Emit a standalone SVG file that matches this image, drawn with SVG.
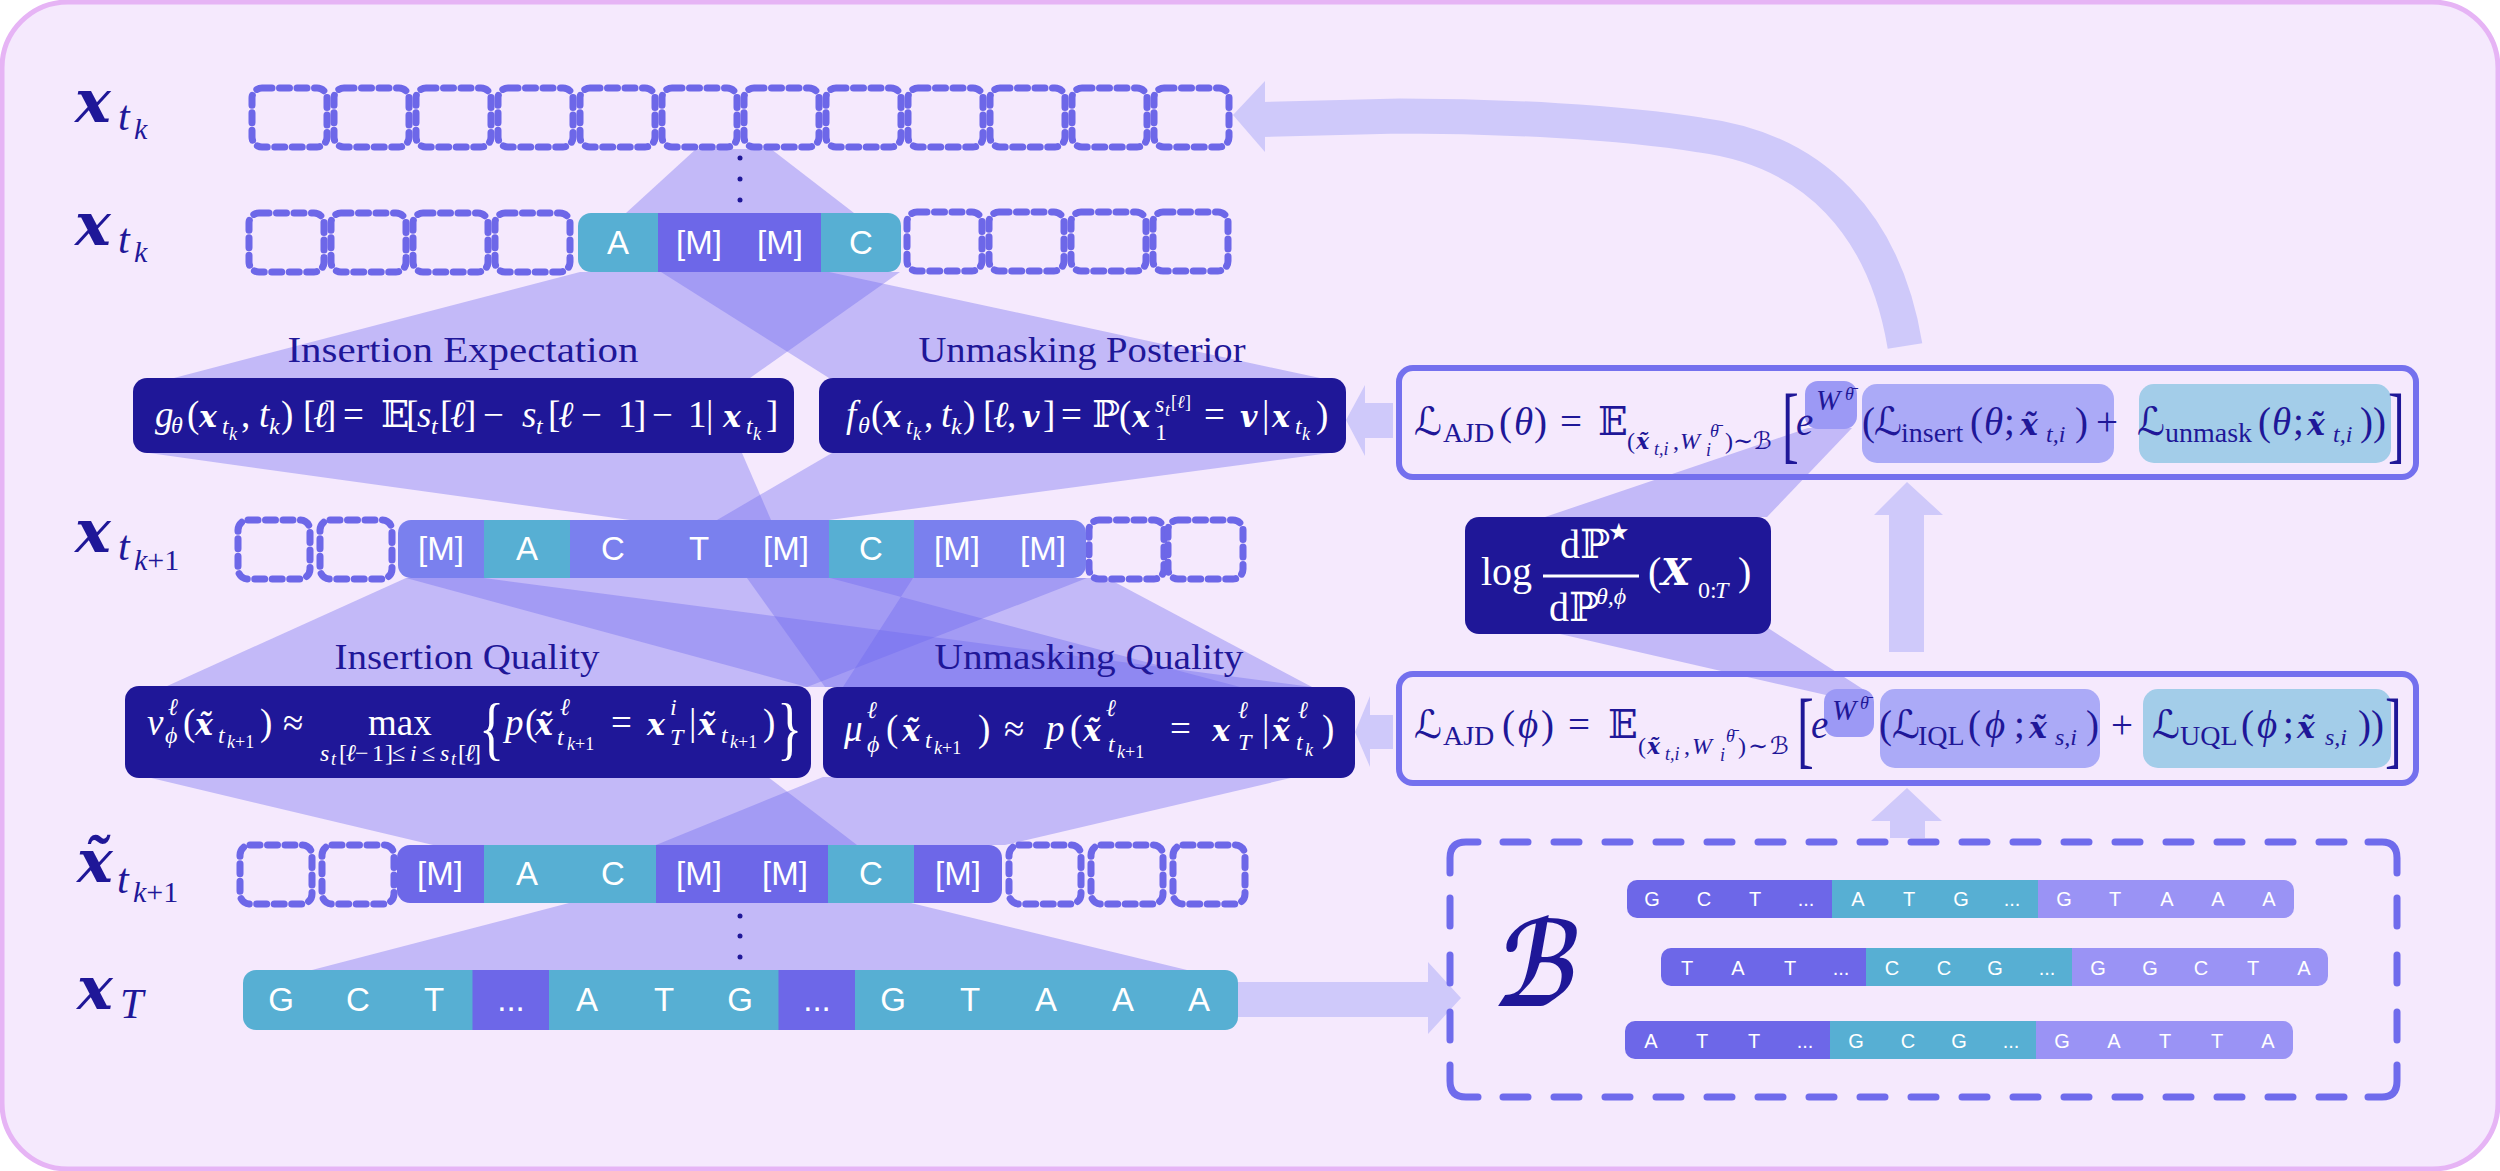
<svg xmlns="http://www.w3.org/2000/svg" width="2500" height="1171" viewBox="0 0 2500 1171">
<style>
text{font-family:"Liberation Serif","DejaVu Serif","DejaVu Sans",serif}
.i{font-style:italic}
.b{font-family:"DejaVu Serif",serif;font-weight:bold;font-style:italic;font-size:30px}
.s{font-size:24px}.t{font-size:18px}
.s2{font-size:28px}
.w{fill:#fff}.d{fill:#1F1798}
.f{font-size:37px}
.g{font-size:39px}
.lab{font-size:36px;fill:#1F1798;text-anchor:middle}
.bx{font-family:"DejaVu Serif",serif;font-weight:bold;font-style:italic;font-size:60px;fill:#1F1798}
.c{font-family:"Liberation Sans",sans-serif;font-size:33px;fill:#fff;text-anchor:middle}
.e{font-family:"Liberation Sans",sans-serif;font-size:20px;fill:#fff;text-anchor:middle}
.band{fill:#6D67F0;opacity:.37}
.arr{fill:#CFC9FA}
.dash{fill:none;stroke:#6D67E8;stroke-width:7;stroke-dasharray:10 7.500;stroke-linecap:round}
.fb{fill:#1F1798}
.M{fill:#6D67E8}.P{fill:#7A80EE}.T{fill:#57AFD3}.L{fill:#9A93F5}
.lb{fill:none;stroke:#7470EE;stroke-width:6}
.bb{fill:none;stroke:#6F6BEC;stroke-width:7;stroke-linecap:round}
</style>
<defs>
<rect id="c75" width="75" height="59" rx="10" class="dash"/>
<rect id="c72" width="72" height="59" rx="10" class="dash"/>
<clipPath id="r2"><rect x="578" y="213" width="323" height="59" rx="13"/></clipPath>
<clipPath id="r3"><rect x="398" y="520" width="688" height="58" rx="13"/></clipPath>
<clipPath id="r4"><rect x="397" y="845" width="605" height="58" rx="13"/></clipPath>
<clipPath id="r5"><rect x="243" y="970" width="995" height="60" rx="13"/></clipPath>
<clipPath id="b1"><rect x="1627" y="880" width="667" height="38" rx="10"/></clipPath>
<clipPath id="b2"><rect x="1661" y="948" width="667" height="38" rx="10"/></clipPath>
<clipPath id="b3"><rect x="1625" y="1021" width="668" height="38" rx="10"/></clipPath>
</defs>
<rect id="panel" x="2" y="2" width="2496" height="1167" rx="66" fill="#F5E9FD" stroke="#E6B4F5" stroke-width="5"/>

<g id="connectors">
<polygon class="band" points="696,149 771,149 854,213 626,213"/>
<polygon class="band" points="580,272 900,272 750,378 174,378"/>
<polygon class="band" points="661,272 829,272 1320,378 829,378"/>
<polygon class="band" points="149,453 742,453 771,520 630,520"/>
<polygon class="band" points="832,453 1330,453 829,520 717,520"/>
<polygon class="band" points="406,578 1087,578 807,687 165,687"/>
<polygon class="band" points="406,578 484,578 1312,687 807,687"/>
<polygon class="band" points="830,578 913,578 843,687 1240,687"/>
<polygon class="band" points="747,578 1107,578 1312,687 825,687"/>
<polygon class="band" points="147,777 768,777 857,845 433,845"/>
<polygon class="band" points="823,777 1295,777 1005,845 656,845"/>
<polygon class="band" points="569,903 911,903 1187,970 312,970"/>
<polygon class="band" points="1545,517 1767,517 1852,428 1808,428"/>
<polygon class="band" points="1560,634 1768,628 1872,695 1826,695"/>
<path d="M1905,346C1885,225 1815,150 1700,135C1620,122 1500,116 1400,116L1262,119.500" fill="none" stroke="#CFC9FA" stroke-width="35"/>
<polygon class="arr" points="1233,115 1265,81 1265,152"/>
<polygon class="arr" points="1393,403 1365,403 1365,385 1346,420 1365,456 1365,438 1393,438"/>
<polygon class="arr" points="1393,715 1370,715 1370,696 1355,732 1370,767 1370,749 1393,749"/>
<polygon class="arr" points="1889,652 1889,515 1874,515 1907,482 1943,515 1924,515 1924,652"/>
<polygon class="arr" points="1890,838 1890,821 1871,821 1907,788 1942,821 1925,821 1925,838"/>
</g>

<g id="row-xtk-top">
<use href="#c75" x="252" y="88"/><use href="#c75" x="334" y="88"/><use href="#c75" x="416" y="88"/><use href="#c75" x="498" y="88"/><use href="#c75" x="580" y="88"/><use href="#c75" x="662" y="88"/><use href="#c75" x="744" y="88"/><use href="#c75" x="826" y="88"/><use href="#c75" x="908" y="88"/><use href="#c75" x="990" y="88"/><use href="#c75" x="1072" y="88"/><use href="#c75" x="1154" y="88"/>
<text class="bx" x="75" y="122">x</text><text class="i d" font-size="42" x="118" y="130">t</text><text class="i d" font-size="30" x="134" y="139">k</text>
<g fill="#1F1798"><circle cx="740" cy="158" r="2.500"/><circle cx="740" cy="179" r="2.500"/><circle cx="740" cy="200" r="2.500"/></g>
</g>

<g id="row-xtk">
<use href="#c75" x="249" y="213"/><use href="#c75" x="331" y="213"/><use href="#c75" x="413" y="213"/><use href="#c75" x="495" y="213"/>
<use href="#c75" x="907" y="212"/><use href="#c75" x="989" y="212"/><use href="#c75" x="1071" y="212"/><use href="#c75" x="1153" y="212"/>
<g clip-path="url(#r2)"><rect class="T" x="578" y="213" width="80" height="59"/><rect class="M" x="658" y="213" width="163" height="59"/><rect class="T" x="821" y="213" width="80" height="59"/></g>
<text class="c" x="618" y="254">A</text><text class="c" x="699" y="254">[M]</text><text class="c" x="780" y="254">[M]</text><text class="c" x="861" y="254">C</text>
<text class="bx" x="75" y="245">x</text><text class="i d" font-size="42" x="118" y="253">t</text><text class="i d" font-size="30" x="134" y="262">k</text>
</g>

<g id="row-xtk1">
<use href="#c72" x="238" y="520"/><use href="#c72" x="320" y="520"/><use href="#c75" x="1089" y="520"/><use href="#c75" x="1168" y="520"/>
<g clip-path="url(#r3)"><rect class="P" x="398" y="520" width="688" height="58"/><rect class="T" x="484" y="520" width="86" height="58"/><rect class="T" x="829" y="520" width="85" height="58"/></g>
<text class="c" x="441" y="560">[M]</text><text class="c" x="527" y="560">A</text><text class="c" x="613" y="560">C</text><text class="c" x="699" y="560">T</text><text class="c" x="786" y="560">[M]</text><text class="c" x="871" y="560">C</text><text class="c" x="957" y="560">[M]</text><text class="c" x="1043" y="560">[M]</text>
<text class="bx" x="75" y="552">x</text><text class="i d" font-size="42" x="118" y="560">t</text><text class="i d" font-size="30" x="134" y="570">k<tspan font-style="normal">+1</tspan></text>
</g>

<g id="row-xtilde">
<use href="#c72" x="240" y="845"/><use href="#c72" x="322" y="845"/><use href="#c72" x="1009" y="845"/><use href="#c72" x="1091" y="845"/><use href="#c72" x="1173" y="845"/>
<g clip-path="url(#r4)"><rect class="M" x="397" y="845" width="605" height="58"/><rect class="T" x="484" y="845" width="172" height="58"/><rect class="T" x="828" y="845" width="86" height="58"/></g>
<text class="c" x="440" y="885">[M]</text><text class="c" x="527" y="885">A</text><text class="c" x="613" y="885">C</text><text class="c" x="699" y="885">[M]</text><text class="c" x="785" y="885">[M]</text><text class="c" x="871" y="885">C</text><text class="c" x="958" y="885">[M]</text>
<text class="bx" x="77" y="882">x̃</text><text class="i d" font-size="42" x="117" y="893">t</text><text class="i d" font-size="30" x="133" y="902">k<tspan font-style="normal">+1</tspan></text>
<g fill="#1F1798"><circle cx="740" cy="916" r="2.500"/><circle cx="740" cy="936" r="2.500"/><circle cx="740" cy="957" r="2.500"/></g>
</g>

<g id="row-xT">
<g clip-path="url(#r5)"><rect class="T" x="243" y="970" width="995" height="60"/><rect class="M" x="472.500" y="970" width="76.500" height="60"/><rect class="M" x="778.500" y="970" width="76.500" height="60"/></g>
<text class="c" x="281" y="1011">G</text><text class="c" x="358" y="1011">C</text><text class="c" x="434" y="1011">T</text><text class="c" x="511" y="1011">...</text><text class="c" x="587" y="1011">A</text><text class="c" x="664" y="1011">T</text><text class="c" x="740" y="1011">G</text><text class="c" x="817" y="1011">...</text><text class="c" x="893" y="1011">G</text><text class="c" x="970" y="1011">T</text><text class="c" x="1046" y="1011">A</text><text class="c" x="1123" y="1011">A</text><text class="c" x="1199" y="1011">A</text>
<text class="bx" x="77" y="1009">x</text><text class="i d" font-size="42" x="120" y="1018">T</text>
</g>

<g id="arrow-xT-to-buffer"><polygon class="arr" points="1238,982 1428,982 1428,962 1461,998 1428,1034 1428,1017 1238,1017"/></g>

<g id="insertion-expectation">
<text class="lab" x="463" y="362" textLength="351" lengthAdjust="spacingAndGlyphs">Insertion Expectation</text>
<rect class="fb" x="133" y="378" width="661" height="75" rx="14"/>
<text class="f w"><tspan class="i" x="155" y="427">g</tspan><tspan class="i s" x="171" y="433">θ</tspan><tspan x="187" y="427">(</tspan><tspan class="b" x="199" y="427">x</tspan><tspan class="i s" x="222" y="434">t</tspan><tspan class="i t" x="229" y="440">k</tspan><tspan x="241" y="427">,</tspan><tspan class="i" x="259" y="427">t</tspan><tspan class="i s" x="269" y="434">k</tspan><tspan x="281" y="427">)</tspan><tspan x="303" y="427">[</tspan><tspan class="i" x="313" y="427">ℓ</tspan><tspan x="324" y="427">]</tspan><tspan x="343" y="427">=</tspan><tspan x="381" y="427">𝔼</tspan><tspan x="406" y="427">[</tspan><tspan class="i" x="417" y="427">s</tspan><tspan class="i s" x="431" y="434">t</tspan><tspan x="440" y="427">[</tspan><tspan class="i" x="450" y="427">ℓ</tspan><tspan x="464" y="427">]</tspan><tspan x="483" y="427">−</tspan><tspan class="i" x="522" y="427">s</tspan><tspan class="i s" x="536" y="434">t</tspan><tspan x="548" y="427">[</tspan><tspan class="i" x="558" y="427">ℓ</tspan><tspan x="581" y="427">−</tspan><tspan x="618" y="427">1</tspan><tspan x="634" y="427">]</tspan><tspan x="652" y="427">−</tspan><tspan x="688" y="427">1</tspan><tspan x="706" y="427">|</tspan><tspan class="b" x="723" y="427">x</tspan><tspan class="i s" x="746" y="434">t</tspan><tspan class="i t" x="753" y="440">k</tspan><tspan x="766" y="427">]</tspan></text>
</g>

<g id="unmasking-posterior">
<text class="lab" x="1082" y="362" textLength="327" lengthAdjust="spacingAndGlyphs">Unmasking Posterior</text>
<rect class="fb" x="819" y="378" width="527" height="75" rx="14"/>
<text class="f w"><tspan class="i" x="846" y="427">f</tspan><tspan class="i s" x="858" y="433">θ</tspan><tspan x="871" y="427">(</tspan><tspan class="b" x="883" y="427">x</tspan><tspan class="i s" x="906" y="434">t</tspan><tspan class="i t" x="913" y="440">k</tspan><tspan x="924" y="427">,</tspan><tspan class="i" x="941" y="427">t</tspan><tspan class="i s" x="951" y="434">k</tspan><tspan x="963" y="427">)</tspan><tspan x="983" y="427">[</tspan><tspan class="i" x="993" y="427">ℓ</tspan><tspan x="1007" y="427">,</tspan><tspan class="b" x="1022" y="427">v</tspan><tspan x="1043" y="427">]</tspan><tspan x="1061" y="427">=</tspan><tspan x="1092" y="427">ℙ</tspan><tspan x="1119" y="427">(</tspan><tspan class="b" x="1132" y="427">x</tspan><tspan class="s" x="1155" y="440">1</tspan><tspan class="i s" x="1155" y="412">s</tspan><tspan class="i t" x="1165" y="416">t</tspan><tspan class="t" x="1171" y="408">[</tspan><tspan class="i t" x="1177" y="408">ℓ</tspan><tspan class="t" x="1185" y="408">]</tspan><tspan x="1204" y="427">=</tspan><tspan class="b" x="1240" y="427">v</tspan><tspan x="1262" y="427">|</tspan><tspan class="b" x="1272" y="427">x</tspan><tspan class="i s" x="1295" y="434">t</tspan><tspan class="i t" x="1302" y="440">k</tspan><tspan x="1316" y="427">)</tspan></text>
</g>

<g id="insertion-quality">
<text class="lab" x="467" y="669" textLength="265" lengthAdjust="spacingAndGlyphs">Insertion Quality</text>
<rect class="fb" x="125" y="686" width="686" height="92" rx="14"/>
<text class="f w"><tspan class="i" x="147" y="735">ν</tspan><tspan class="i s" x="168" y="715">ℓ</tspan><tspan class="i s" x="165" y="743">ϕ</tspan><tspan x="183" y="735">(</tspan><tspan class="b" x="195" y="735">x̃</tspan><tspan class="i s" x="218" y="743">t</tspan><tspan class="i t" x="227" y="748">k</tspan><tspan class="t" x="235" y="748">+1</tspan><tspan x="260" y="735">)</tspan><tspan x="283" y="735">≈</tspan><tspan x="368" y="735">max</tspan><tspan class="i s" x="320" y="761">s</tspan><tspan class="i t" x="331" y="765">t</tspan><tspan class="s" x="339" y="761">[</tspan><tspan class="i s" x="346" y="761">ℓ</tspan><tspan class="s" x="355" y="761">−</tspan><tspan class="s" x="372" y="761">1</tspan><tspan class="s" x="385" y="761">]</tspan><tspan class="s" x="392" y="761">≤</tspan><tspan class="i s" x="410" y="761">i</tspan><tspan class="s" x="422" y="761">≤</tspan><tspan class="i s" x="440" y="761">s</tspan><tspan class="i t" x="451" y="765">t</tspan><tspan class="s" x="458" y="761">[</tspan><tspan class="i s" x="465" y="761">ℓ</tspan><tspan class="s" x="473" y="761">]</tspan><tspan x="505" y="735" class="i">p</tspan><tspan x="525" y="735">(</tspan><tspan class="b" x="535" y="735">x̃</tspan><tspan class="i s" x="560" y="715">ℓ</tspan><tspan class="i s" x="557" y="745">t</tspan><tspan class="i t" x="567" y="750">k</tspan><tspan class="t" x="575" y="750">+1</tspan><tspan x="611" y="735">=</tspan><tspan class="b" x="647" y="735">x</tspan><tspan class="i s" x="670" y="715">i</tspan><tspan class="i s" x="670" y="745">T</tspan><tspan x="689" y="735">|</tspan><tspan class="b" x="698" y="735">x̃</tspan><tspan class="i s" x="721" y="743">t</tspan><tspan class="i t" x="730" y="748">k</tspan><tspan class="t" x="738" y="748">+1</tspan><tspan x="763" y="735">)</tspan></text>
<text class="w" font-size="70" transform="translate(479,752) scale(.75,1)">{</text><text class="w" font-size="70" transform="translate(777,752) scale(.75,1)">}</text>
</g>

<g id="unmasking-quality">
<text class="lab" x="1089" y="669" textLength="309" lengthAdjust="spacingAndGlyphs">Unmasking Quality</text>
<rect class="fb" x="823" y="687" width="532" height="91" rx="14"/>
<text class="f w"><tspan class="i" x="844" y="741">μ</tspan><tspan class="i s" x="867" y="718">ℓ</tspan><tspan class="i s" x="867" y="752">ϕ</tspan><tspan x="886" y="741">(</tspan><tspan class="b" x="902" y="741">x̃</tspan><tspan class="i s" x="925" y="748">t</tspan><tspan class="i t" x="934" y="754">k</tspan><tspan class="t" x="942" y="754">+1</tspan><tspan x="978" y="741">)</tspan><tspan x="1004" y="741">≈</tspan><tspan class="i" x="1046" y="741">p</tspan><tspan x="1070" y="741">(</tspan><tspan class="b" x="1083" y="741">x̃</tspan><tspan class="i s" x="1106" y="716">ℓ</tspan><tspan class="i s" x="1108" y="752">t</tspan><tspan class="i t" x="1117" y="758">k</tspan><tspan class="t" x="1125" y="758">+1</tspan><tspan x="1170" y="741">=</tspan><tspan class="b" x="1212" y="741">x</tspan><tspan class="i s" x="1238" y="718">ℓ</tspan><tspan class="i s" x="1238" y="750">T</tspan><tspan x="1262" y="741">|</tspan><tspan class="b" x="1272" y="741">x̃</tspan><tspan class="i s" x="1298" y="718">ℓ</tspan><tspan class="i s" x="1296" y="750">t</tspan><tspan class="i t" x="1305" y="756">k</tspan><tspan x="1322" y="741">)</tspan></text>
</g>

<g id="log-ratio">
<rect class="fb" x="1465" y="517" width="306" height="117" rx="14"/>
<rect x="1543" y="574.500" width="96" height="3" fill="#fff"/>
<text class="f w"><tspan x="1481" y="585" font-size="40">log</tspan><tspan x="1560" y="558" font-size="40">dℙ</tspan><tspan class="s" x="1608" y="540">★</tspan><tspan x="1549" y="621" font-size="40">dℙ</tspan><tspan class="i s" x="1596" y="604">θ,ϕ</tspan><tspan x="1648" y="585" font-size="40">(</tspan><tspan font-family="DejaVu Serif" font-weight="bold" font-style="italic" x="1661" y="585" font-size="38">X</tspan><tspan class="s" x="1698" y="598">0:</tspan><tspan class="i s" x="1715" y="598">T</tspan><tspan x="1738" y="585" font-size="40">)</tspan></text>
</g>

<g id="loss-theta">
<rect x="1862" y="384" width="252" height="79" rx="15" fill="#ABAAF7"/>
<rect x="2139" y="384" width="252" height="79" rx="15" fill="#A3CDE9"/>
<rect x="1805" y="381" width="52" height="48" rx="13" fill="#9C99F5"/>
<rect class="lb" x="1399" y="368" width="1017" height="109" rx="14"/>
<text class="g d"><tspan class="i" x="1414" y="435">ℒ</tspan><tspan class="s2" x="1443" y="442">AJD</tspan><tspan x="1499" y="435">(</tspan><tspan class="i" x="1514" y="435">θ</tspan><tspan x="1534" y="435">)</tspan><tspan x="1560" y="435">=</tspan><tspan x="1598" y="435">𝔼</tspan><tspan class="s" x="1627" y="449">(</tspan><tspan class="b" style="font-size:22px" x="1636" y="449">x̃</tspan><tspan class="i t" x="1654" y="455">t,i</tspan><tspan class="s" x="1673" y="449">,</tspan><tspan class="i s" x="1680" y="449">W</tspan><tspan class="i t" x="1710" y="437">θ̄</tspan><tspan class="i t" x="1706" y="456">i</tspan><tspan class="s" x="1725" y="449">)</tspan><tspan class="s" x="1733" y="449">∼</tspan><tspan class="s i" x="1753" y="449">ℬ</tspan><tspan class="i" x="1796" y="435">e</tspan><tspan class="i" font-size="29" x="1816" y="410">W</tspan><tspan class="i t" x="1845" y="400">θ̄</tspan><tspan x="1862" y="435">(</tspan><tspan class="i" x="1874" y="435">ℒ</tspan><tspan class="s2" x="1901" y="442">insert</tspan><tspan x="1970" y="435">(</tspan><tspan class="i" x="1984" y="435">θ</tspan><tspan x="2004" y="435">;</tspan><tspan class="b" x="2020" y="435">x̃</tspan><tspan class="i s" x="2046" y="442">t,i</tspan><tspan x="2075" y="435">)</tspan><tspan x="2096" y="435">+</tspan><tspan class="i" x="2137" y="435">ℒ</tspan><tspan class="s2" x="2165" y="442">unmask</tspan><tspan x="2258" y="435">(</tspan><tspan class="i" x="2272" y="435">θ</tspan><tspan x="2293" y="435">;</tspan><tspan class="b" x="2307" y="435">x̃</tspan><tspan class="i s" x="2333" y="442">t,i</tspan><tspan x="2360" y="435">))</tspan></text>
<text class="d" font-size="84" transform="translate(1782,453) scale(.6,1)">[</text><text class="d" font-size="84" transform="translate(2388,453) scale(.6,1)">]</text>
</g>

<g id="loss-phi">
<rect x="1880" y="689" width="220" height="79" rx="15" fill="#ABAAF7"/>
<rect x="2143" y="689" width="248" height="79" rx="15" fill="#A3CDE9"/>
<rect x="1824" y="689" width="50" height="48" rx="13" fill="#9C99F5"/>
<rect class="lb" x="1399" y="674" width="1017" height="109" rx="14"/>
<text class="g d"><tspan class="i" x="1414" y="738">ℒ</tspan><tspan class="s2" x="1443" y="745">AJD</tspan><tspan x="1502" y="738">(</tspan><tspan class="i" x="1518" y="738">ϕ</tspan><tspan x="1541" y="738">)</tspan><tspan x="1568" y="738">=</tspan><tspan x="1608" y="738">𝔼</tspan><tspan class="s" x="1638" y="754">(</tspan><tspan class="b" style="font-size:22px" x="1647" y="754">x̃</tspan><tspan class="i t" x="1665" y="760">t,i</tspan><tspan class="s" x="1684" y="754">,</tspan><tspan class="i s" x="1692" y="754">W</tspan><tspan class="i t" x="1726" y="742">θ̄</tspan><tspan class="i t" x="1720" y="761">i</tspan><tspan class="s" x="1738" y="754">)</tspan><tspan class="s" x="1748" y="754">∼</tspan><tspan class="s i" x="1770" y="754">ℬ</tspan><tspan class="i" x="1811" y="738">e</tspan><tspan class="i" font-size="29" x="1832" y="720">W</tspan><tspan class="i t" x="1860" y="709">θ̄</tspan><tspan x="1879" y="738">(</tspan><tspan class="i" x="1892" y="738">ℒ</tspan><tspan class="s2" x="1918" y="745">IQL</tspan><tspan x="1968" y="738">(</tspan><tspan class="i" x="1985" y="738">ϕ</tspan><tspan x="2014" y="738">;</tspan><tspan class="b" x="2029" y="738">x̃</tspan><tspan class="i s" x="2055" y="745">s,i</tspan><tspan x="2086" y="738">)</tspan><tspan x="2111" y="738">+</tspan><tspan class="i" x="2152" y="738">ℒ</tspan><tspan class="s2" x="2180" y="745">UQL</tspan><tspan x="2241" y="738">(</tspan><tspan class="i" x="2257" y="738">ϕ</tspan><tspan x="2283" y="738">;</tspan><tspan class="b" x="2297" y="738">x̃</tspan><tspan class="i s" x="2325" y="745">s,i</tspan><tspan x="2358" y="738">))</tspan></text>
<text class="d" font-size="84" transform="translate(1797,758) scale(.6,1)">[</text><text class="d" font-size="84" transform="translate(2385,758) scale(.6,1)">]</text>
</g>

<g id="buffer">
<path class="bb" d="M1450,873V858Q1450,842 1466,842H1478"/><path class="bb" d="M2368,842H2382Q2397,842 2397,858V873"/><path class="bb" d="M2397,1065V1081Q2397,1097 2382,1097H2368"/><path class="bb" d="M1478,1097H1466Q1450,1097 1450,1081V1065"/>
<path class="bb" stroke-dasharray="25 26" d="M1503,842H2345M1503,1097H2345"/>
<path class="bb" stroke-dasharray="28 29" d="M1450,898V1044M2397,898V1044"/>
<text font-size="118" class="d" font-weight="bold" font-family="DejaVu Serif" font-style="italic" transform="translate(1492,1006) skewX(-10) scale(.75,1)">ℬ</text>
<g clip-path="url(#b1)"><rect class="M" x="1627" y="880" width="206" height="38"/><rect class="T" x="1832" y="880" width="206" height="38"/><rect class="L" x="2038" y="880" width="256" height="38"/></g>
<text class="e" x="1652 1704 1755" y="906">GCT</text><text class="e" x="1806" y="906">...</text><text class="e" x="1858 1909 1961" y="906">ATG</text><text class="e" x="2012" y="906">...</text><text class="e" x="2064 2115 2167 2218 2269" y="906">GTAAA</text>
<g clip-path="url(#b2)"><rect class="M" x="1661" y="948" width="206" height="38"/><rect class="T" x="1866" y="948" width="206" height="38"/><rect class="L" x="2072" y="948" width="256" height="38"/></g>
<text class="e" x="1687 1738 1790" y="975">TAT</text><text class="e" x="1841" y="975">...</text><text class="e" x="1892 1944 1995" y="975">CCG</text><text class="e" x="2047" y="975">...</text><text class="e" x="2098 2150 2201 2253 2304" y="975">GGCTA</text>
<g clip-path="url(#b3)"><rect class="M" x="1625" y="1021" width="206" height="38"/><rect class="T" x="1830" y="1021" width="206" height="38"/><rect class="L" x="2036" y="1021" width="257" height="38"/></g>
<text class="e" x="1651 1702 1754" y="1048">ATT</text><text class="e" x="1805" y="1048">...</text><text class="e" x="1856 1908 1959" y="1048">GCG</text><text class="e" x="2011" y="1048">...</text><text class="e" x="2062 2114 2165 2217 2268" y="1048">GATTA</text>
</g>
</svg>
